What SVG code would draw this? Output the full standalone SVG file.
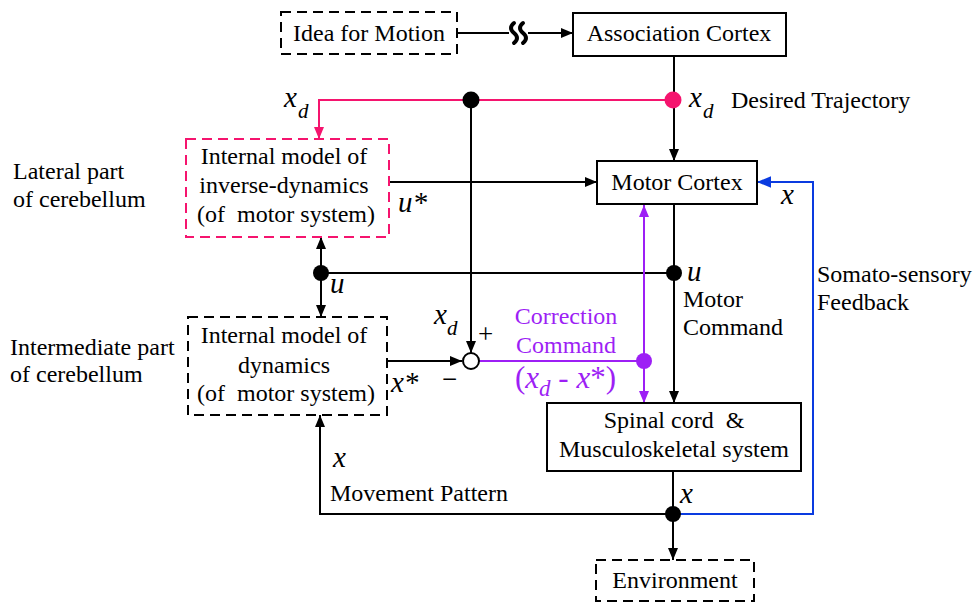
<svg xmlns="http://www.w3.org/2000/svg" width="975" height="603" viewBox="0 0 975 603">
  <defs>
    <marker id="ah" viewBox="0 0 12 10" refX="12" refY="5" markerWidth="12" markerHeight="10" markerUnits="userSpaceOnUse" orient="auto">
      <path d="M0,0 L12,5 L0,10 Z" fill="#000"/>
    </marker>
    <marker id="ah-pink" viewBox="0 0 12 10" refX="12" refY="5" markerWidth="12" markerHeight="10" markerUnits="userSpaceOnUse" orient="auto">
      <path d="M0,0 L12,5 L0,10 Z" fill="#f5146e"/>
    </marker>
    <marker id="ah-purple" viewBox="0 0 12 10" refX="12" refY="5" markerWidth="12" markerHeight="10" markerUnits="userSpaceOnUse" orient="auto">
      <path d="M0,0 L12,5 L0,10 Z" fill="#9d1ff5"/>
    </marker>
    <marker id="ah-blue" viewBox="0 0 12 10" refX="12" refY="5" markerWidth="14" markerHeight="12" markerUnits="userSpaceOnUse" orient="auto">
      <path d="M0,0 L12,5 L0,10 Z" fill="#0a3be0"/>
    </marker>
  </defs>
  <style>
    text { font-family: "Liberation Serif", "Times New Roman", Tinos, "DejaVu Serif", serif; font-size: 24px; fill: #000; }
    .c { text-anchor: middle; }
    .m { font-style: italic; font-size: 29px; }
    .sub { font-style: italic; font-size: 21px; }
    .op { font-size: 27px; }
    .expr { font-size: 31px; fill: #9d1ff5; }
    .box { fill: #fff; stroke: #000; stroke-width: 2; }
    .dash { fill: #fff; stroke: #000; stroke-width: 2; stroke-dasharray: 10 6; }
    .dash-pink { fill: #fff; stroke: #f5146e; stroke-width: 2; stroke-dasharray: 10 6; }
    .w { fill: none; stroke: #000; stroke-width: 2; }
    .brk { fill: none; stroke: #000; stroke-width: 4; stroke-linecap: round; }
    .pink { fill: none; stroke: #f5146e; stroke-width: 2; }
    .purple { fill: none; stroke: #9d1ff5; stroke-width: 2; }
    .blue { fill: none; stroke: #0a3be0; stroke-width: 2; }
    .pt { fill: #9d1ff5; }
  </style>

  <rect width="975" height="603" fill="#fff"/>

  <!-- connectors -->
  <g id="connectors">
    <line class="w" x1="457" y1="33" x2="509" y2="33"/>
    <line class="w" x1="528" y1="33" x2="573" y2="33" marker-end="url(#ah)"/>
    <!-- break symbol on the idea link -->
    <path class="brk" d="M514,23 q-6,5 0,10 q6,5 0,10"/>
    <path class="brk" d="M523,23 q-6,5 0,10 q6,5 0,10"/>

    <line class="w" x1="674" y1="56" x2="674" y2="161" marker-end="url(#ah)"/>
    <polyline class="pink" points="673,100 319,100 319,139" marker-end="url(#ah-pink)"/>
    <line class="w" x1="471" y1="100" x2="471" y2="353" marker-end="url(#ah)"/>
    <line class="w" x1="389" y1="182" x2="597" y2="182" marker-end="url(#ah)"/>
    <line class="w" x1="674" y1="204" x2="674" y2="403" marker-end="url(#ah)"/>
    <line class="w" x1="321" y1="273" x2="674" y2="273"/>
    <line class="w" x1="321" y1="273" x2="321" y2="237" marker-end="url(#ah)"/>
    <line class="w" x1="321" y1="273" x2="321" y2="317" marker-end="url(#ah)"/>
    <line class="w" x1="387" y1="361" x2="462" y2="361" marker-end="url(#ah)"/>

    <line class="purple" x1="479" y1="361" x2="644" y2="361"/>
    <line class="purple" x1="644" y1="361" x2="644" y2="205" marker-end="url(#ah-purple)"/>
    <line class="purple" x1="644" y1="361" x2="644" y2="403" marker-end="url(#ah-purple)"/>

    <line class="w" x1="673" y1="471" x2="673" y2="560" marker-end="url(#ah)"/>
    <polyline class="w" points="673,514 320,514 320,415" marker-end="url(#ah)"/>
    <polyline class="blue" points="673,514 813,514 813,182 757,182" marker-end="url(#ah-blue)"/>

    <!-- junction dots -->
    <circle cx="471" cy="100" r="8.5" fill="#000"/>
    <circle cx="673" cy="100" r="8.5" fill="#f5146e"/>
    <circle cx="321" cy="273" r="8" fill="#000"/>
    <circle cx="674" cy="273" r="8" fill="#000"/>
    <circle cx="644" cy="361" r="8" fill="#9d1ff5"/>
    <circle cx="673" cy="514" r="8" fill="#000"/>
    <!-- summing point -->
    <circle cx="471" cy="361" r="8" fill="#fff" stroke="#000" stroke-width="2"/>
  </g>

  <!-- nodes -->
  <g id="idea">
    <rect class="dash" x="281" y="12" width="176" height="42"/>
    <text class="c" x="369" y="41">Idea for Motion</text>
  </g>
  <g id="association">
    <rect class="box" x="573" y="13" width="213" height="43"/>
    <text class="c" x="679" y="41">Association Cortex</text>
  </g>
  <g id="motor-cortex">
    <rect class="box" x="597" y="161" width="160" height="43"/>
    <text class="c" x="677" y="190">Motor Cortex</text>
  </g>
  <g id="inverse-model">
    <rect class="dash-pink" x="186" y="139" width="203" height="98"/>
    <text class="c" x="284" y="164">Internal model of</text>
    <text class="c" x="284" y="193">inverse-dynamics</text>
    <text class="c" x="286" y="222" xml:space="preserve">(of  motor system)</text>
  </g>
  <g id="forward-model">
    <rect class="dash" x="188" y="317" width="199" height="98"/>
    <text class="c" x="284" y="343">Internal model of</text>
    <text class="c" x="284" y="373">dynamics</text>
    <text class="c" x="286" y="401" xml:space="preserve">(of  motor system)</text>
  </g>
  <g id="spinal">
    <rect class="box" x="547" y="403" width="254" height="68"/>
    <text class="c" x="674" y="428" xml:space="preserve">Spinal cord  &amp;</text>
    <text class="c" x="674" y="457">Musculoskeletal system</text>
  </g>
  <g id="environment">
    <rect class="dash" x="596" y="560" width="158" height="41"/>
    <text class="c" x="675" y="588">Environment</text>
  </g>

  <!-- labels -->
  <g id="labels">
    <text x="13" y="179">Lateral part</text>
    <text x="13" y="207">of cerebellum</text>
    <text x="10" y="355">Intermediate part</text>
    <text x="10" y="382">of cerebellum</text>

    <text class="m" x="284" y="107">x</text><text class="sub" x="298" y="118">d</text>
    <text class="m" x="689" y="107">x</text><text class="sub" x="703" y="118">d</text>
    <text x="731" y="108">Desired Trajectory</text>

    <text class="m" x="398" y="212">u*</text>
    <text class="m" x="781" y="204">x</text>
    <text class="m" x="330" y="293">u</text>
    <text class="m" x="687" y="281">u</text>
    <text x="683" y="307">Motor</text>
    <text x="683" y="335">Command</text>
    <text x="817" y="282">Somato-sensory</text>
    <text x="817" y="310">Feedback</text>

    <text class="m" x="434" y="324">x</text><text class="sub" x="447" y="335">d</text>
    <text class="op" x="478" y="343">+</text>
    <text class="op" x="442" y="388">−</text>
    <text class="m" x="391" y="392">x*</text>

    <text class="c pt" x="566" y="324">Correction</text>
    <text class="c pt" x="566" y="353">Command</text>
    <text class="expr" x="515" y="388">(<tspan font-style="italic">x</tspan><tspan font-style="italic" font-size="23" dy="8">d</tspan><tspan dy="-8"> - </tspan><tspan font-style="italic">x</tspan>*)</text>

    <text class="m" x="333" y="467">x</text>
    <text x="330" y="501">Movement Pattern</text>
    <text class="m" x="680" y="503">x</text>
  </g>
</svg>
